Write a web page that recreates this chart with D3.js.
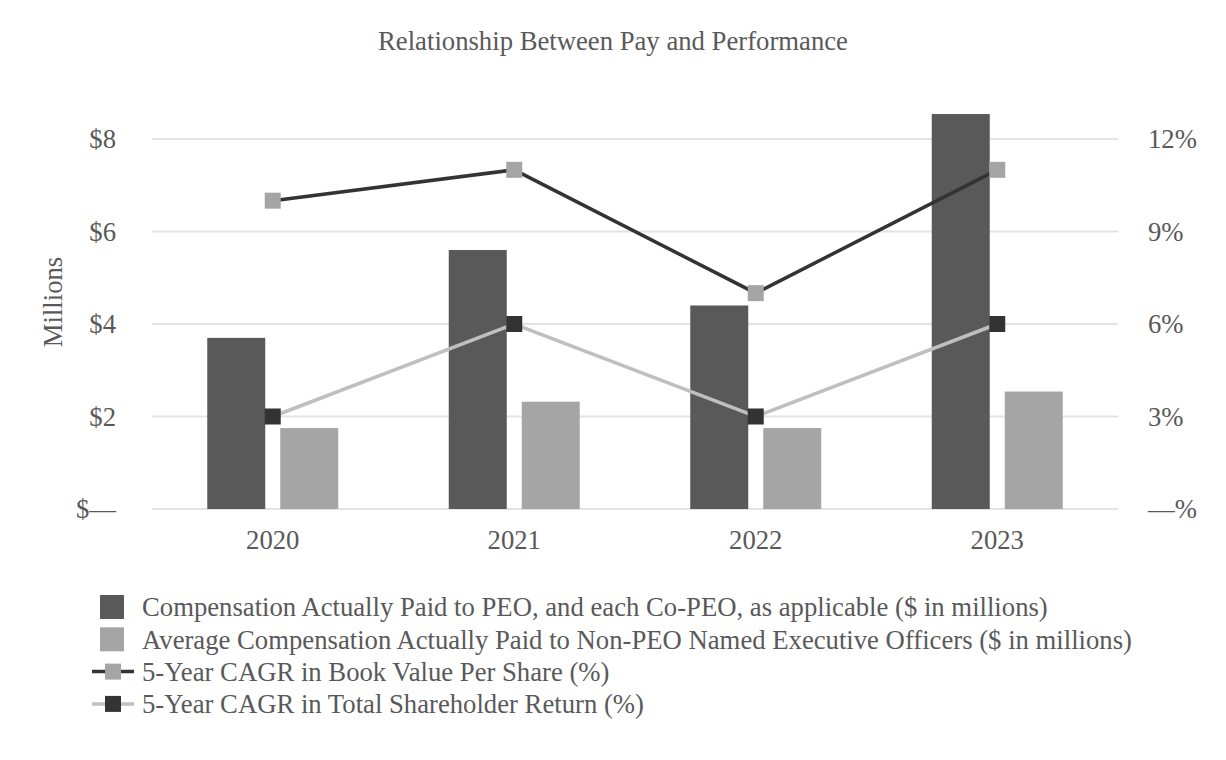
<!doctype html>
<html lang="en">
<head>
<meta charset="utf-8">
<title>Relationship Between Pay and Performance</title>
<script src="https://d3js.org/d3.v7.min.js"></script>
<style>
  body { margin: 0; background: #fff; }
  svg text { font-family: 'Liberation Serif', 'Times New Roman', Times, serif !important; fill: #595959; }
  .axis path, .axis line { display: none; }
</style>
</head>
<body>
<svg id="chart" width="1226" height="760"></svg>
<script>
// chart data
var years = ["2020", "2021", "2022", "2023"];
var peoPay = [3.70, 5.60, 4.40, 8.54];          // $ millions
var neoPay = [1.75, 2.32, 1.75, 2.54];          // $ millions
var bookValueCagr = [10, 11, 7, 11];            // %
var tsrCagr = [3, 6, 3, 6];                     // %
var leftTicks = [0, 2, 4, 6, 8];
var rightTicks = [0, 3, 6, 9, 12];
var legendLabels = [
  "Compensation Actually Paid to PEO, and each Co-PEO, as applicable ($ in millions)",
  "Average Compensation Actually Paid to Non-PEO Named Executive Officers ($ in millions)",
  "5-Year CAGR in Book Value Per Share (%)",
  "5-Year CAGR in Total Shareholder Return (%)"
];

var margin = { top: 139, left: 152, right: 108, bottom: 251 };
var width = 1226 - margin.left - margin.right,
    height = 760 - margin.top - margin.bottom;
var fs = "26.7px";

var svg = d3.select("#chart");
var g = svg.append("g")
  .attr("transform", "translate(" + margin.left + "," + margin.top + ")");

// title
svg.append("text")
  .attr("x", 613).attr("y", 50)
  .attr("text-anchor", "middle")
  .style("font-size", fs)
  .text("Relationship Between Pay and Performance");

// scales
var x = d3.scaleBand().domain(years).range([0, width]);
var yL = d3.scaleLinear().domain([0, 8]).range([height, 0]);
var yR = d3.scaleLinear().domain([0, 12]).range([height, 0]);
var barW = 58, barGap = 15;

// gridlines
g.selectAll(".grid")
  .data(leftTicks)
  .enter().append("line")
  .attr("x1", 0).attr("x2", width)
  .attr("y1", function(d) { return yL(d); })
  .attr("y2", function(d) { return yL(d); })
  .attr("stroke", "#e3e3e3")
  .attr("stroke-width", 2);

// axes
var leftAxis = g.append("g").attr("class", "axis")
  .attr("transform", "translate(-33,0)")
  .call(d3.axisLeft(yL).tickValues(leftTicks).tickSize(0)
    .tickFormat(function(d) { return d === 0 ? "$\u2014" : "$" + d; }));
leftAxis.selectAll("text").style("font-size", fs);

var rightAxis = g.append("g").attr("class", "axis")
  .attr("transform", "translate(" + (width + 27) + ",0)")
  .call(d3.axisRight(yR).tickValues(rightTicks).tickSize(0)
    .tickFormat(function(d) { return d === 0 ? "\u2014%" : d + "%"; }));
rightAxis.selectAll("text").style("font-size", fs);

var bottomAxis = g.append("g").attr("class", "axis")
  .attr("transform", "translate(0," + (height + 18) + ")")
  .call(d3.axisBottom(x).tickSize(0));
bottomAxis.selectAll("text").style("font-size", fs);

// y label
svg.append("text")
  .attr("transform", "translate(62,302) rotate(-90)")
  .attr("text-anchor", "middle")
  .style("font-size", fs)
  .text("Millions");

// bars
g.selectAll(".bar-peo")
  .data(peoPay)
  .enter().append("rect")
  .attr("x", function(d, i) { return x(years[i]) + x.bandwidth() / 2 - barGap / 2 - barW; })
  .attr("y", function(d) { return yL(d); })
  .attr("width", barW)
  .attr("height", function(d) { return height - yL(d); })
  .attr("fill", "#595959");

g.selectAll(".bar-neo")
  .data(neoPay)
  .enter().append("rect")
  .attr("x", function(d, i) { return x(years[i]) + x.bandwidth() / 2 + barGap / 2; })
  .attr("y", function(d) { return yL(d); })
  .attr("width", barW)
  .attr("height", function(d) { return height - yL(d); })
  .attr("fill", "#a5a5a5");

// lines
var cx = function(i) { return x(years[i]) + x.bandwidth() / 2; };
var line = d3.line()
  .x(function(d, i) { return cx(i); })
  .y(function(d) { return yR(d); });

function drawSeries(data, lineColor, markColor) {
  g.append("path")
    .datum(data)
    .attr("d", line)
    .attr("fill", "none")
    .attr("stroke", lineColor)
    .attr("stroke-width", 3.5);
  g.selectAll(null)
    .data(data)
    .enter().append("rect")
    .attr("x", function(d, i) { return cx(i) - 8; })
    .attr("y", function(d) { return yR(d) - 8; })
    .attr("width", 16).attr("height", 16)
    .attr("fill", markColor);
}
drawSeries(tsrCagr, "#bfbfbf", "#333333");
drawSeries(bookValueCagr, "#333333", "#a5a5a5");

// legend
var legend = svg.append("g").attr("transform", "translate(0,607)");
var rowH = 32.3;
legendLabels.forEach(function(label, i) {
  var row = legend.append("g").attr("transform", "translate(0," + (i * rowH) + ")");
  if (i < 2) {
    row.append("rect")
      .attr("x", 100).attr("y", -12)
      .attr("width", 24).attr("height", 24)
      .attr("fill", i === 0 ? "#595959" : "#a5a5a5");
  } else {
    row.append("line")
      .attr("x1", 92).attr("x2", 134)
      .attr("y1", 0).attr("y2", 0)
      .attr("stroke", i === 2 ? "#333333" : "#bfbfbf")
      .attr("stroke-width", 3.5);
    row.append("rect")
      .attr("x", 105).attr("y", -8)
      .attr("width", 16).attr("height", 16)
      .attr("fill", i === 2 ? "#a5a5a5" : "#333333");
  }
  row.append("text")
    .attr("x", 142).attr("y", 0)
    .attr("dy", "0.35em")
    .style("font-size", fs)
    .text(label);
});
</script>
</body>
</html>
